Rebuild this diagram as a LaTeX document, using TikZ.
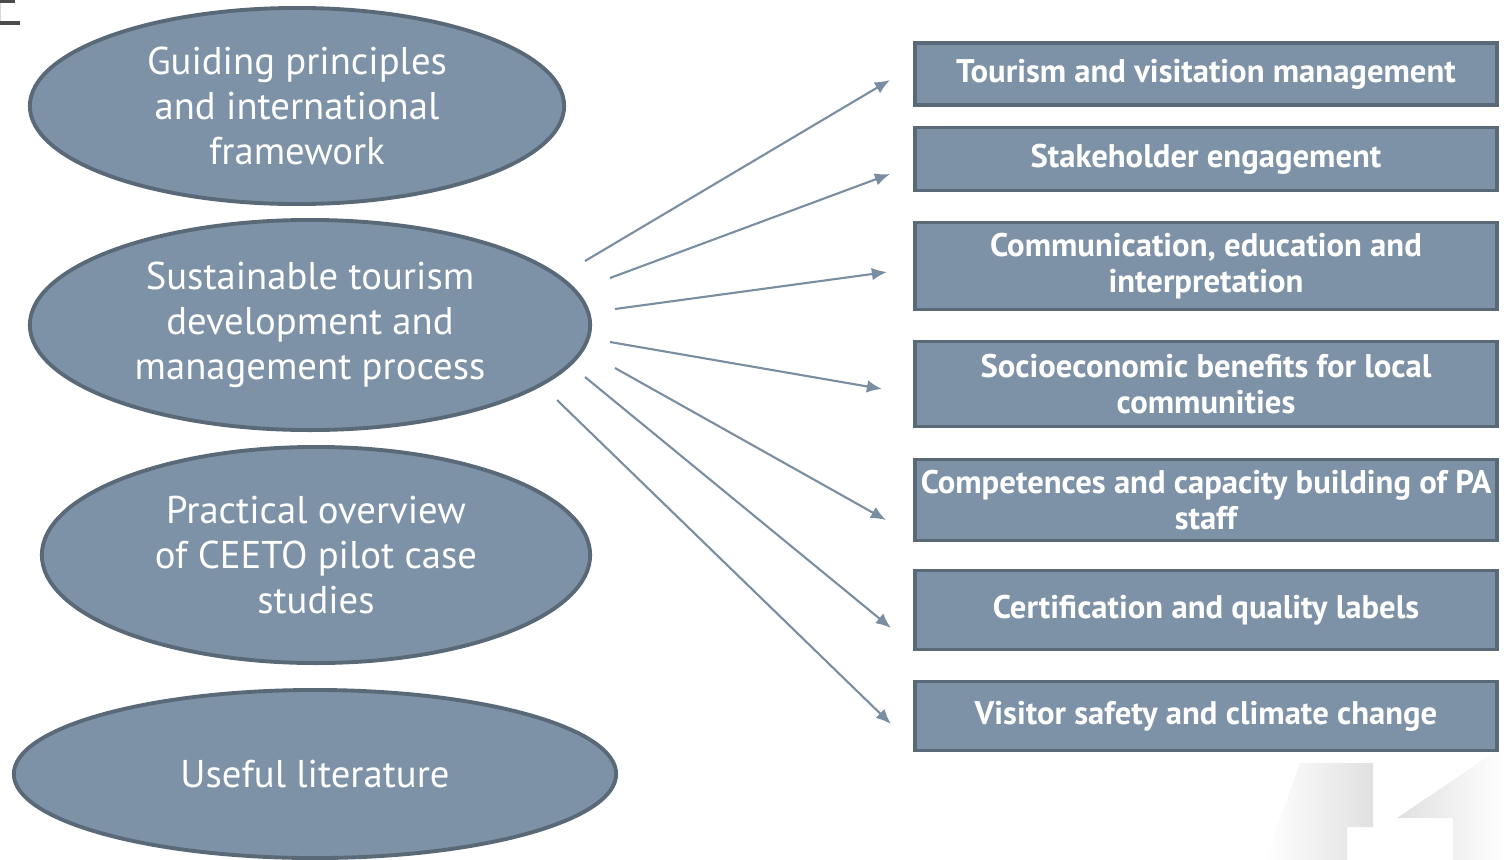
\documentclass[tikz,border=0pt]{standalone}
\usepackage{fontspec}
\setmainfont{PT Sans}
\usepackage{tikz}
\usetikzlibrary{calc, positioning, arrows.meta, shapes.geometric}
\usepackage{tkz-euclide}

\definecolor{slate}{HTML}{7D92A6}
\definecolor{slatedark}{HTML}{5A6978}
\definecolor{raygray}{HTML}{7A8EA2}

\tikzset{
  topic/.style={ellipse, draw=slatedark, line width=1.1pt, fill=slate, text=white,
    align=center, inner sep=0pt, outer sep=0pt, font=\fontsize{11}{12.8}\selectfont},
  theme/.style={rectangle, draw=slatedark, line width=1.1pt, fill=slate, text=white,
    align=center, inner sep=0pt, outer sep=0pt, minimum width=5.82cm,
    font=\bfseries\fontsize{9.3}{10.2}\selectfont},
  ray/.style={draw=raygray, line width=0.6pt, -{Latex[length=4.3pt,width=3.6pt]}}
}

\begin{document}
\begin{tikzpicture}[x=0.01cm, y=-0.01cm]
\useasboundingbox (0,0) rectangle (1505,860);

% corner mark and background watermark
\fill[black!70] (0,0) rectangle (15,3);
\fill[black!70] (0,21) rectangle (20,25);
\fill[black!15] (0,3) rectangle (1,21);
\shade[left color=white, right color=black!12]
  (1300,763) -- (1373,763) -- (1373,827) -- (1347,827) -- (1347,860) -- (1265,860) -- (1277,827) -- cycle;
\shade[left color=black!12, right color=white]
  (1397,818) -- (1505,745) -- (1505,860) -- (1453,860) -- (1453,818) -- cycle;

% left column
\node[topic, minimum width=5.34cm, minimum height=1.96cm] (guide) at (297,106)
  {Guiding principles\\ and international\\ framework};
\node[topic, minimum width=5.60cm, minimum height=2.10cm] (process) at (310,325)
  {Sustainable tourism\\ development and\\ management process};
\node[topic, minimum width=5.48cm, minimum height=2.16cm] (pilot) at (316,555)
  {Practical overview\\ of CEETO pilot case\\ studies};
\node[topic, minimum width=6.02cm, minimum height=1.68cm] (lit) at (315,774)
  {Useful literature};

% right column
\node[theme, minimum height=0.62cm] (b1) at (1206,74) {Tourism and visitation management};
\node[theme, minimum height=0.63cm] (b2) at (1206,159) {Stakeholder engagement};
\node[theme, minimum height=0.87cm] (b3) at (1206,266) {Communication, education and\\ interpretation};
\node[theme, minimum height=0.85cm] (b4) at (1206,384) {Socioeconomic benefits for local\\ communities};
\node[theme, minimum height=0.81cm] (b5) at (1206,500) {Competences and capacity building of PA\\ staff};
\node[theme, minimum height=0.79cm] (b6) at (1206,610) {Certification and quality labels};
\node[theme, minimum height=0.69cm] (b7) at (1206,716) {Visitor safety and climate change};

% rays
\tkzDefPoints{585/261/s1, 610/278/s2, 615/309/s3, 610/342/s4, 615/368/s5, 585/377/s6, 557/400/s7}
\tkzDefPoints{890/80/t1, 890/174/t2, 887/272/t3, 882/389/t4, 886/520/t5, 891/628/t6, 891/724/t7}
\foreach \i in {1,...,7}
  \draw[ray] (s\i) -- (t\i);

\end{tikzpicture}
\end{document}
